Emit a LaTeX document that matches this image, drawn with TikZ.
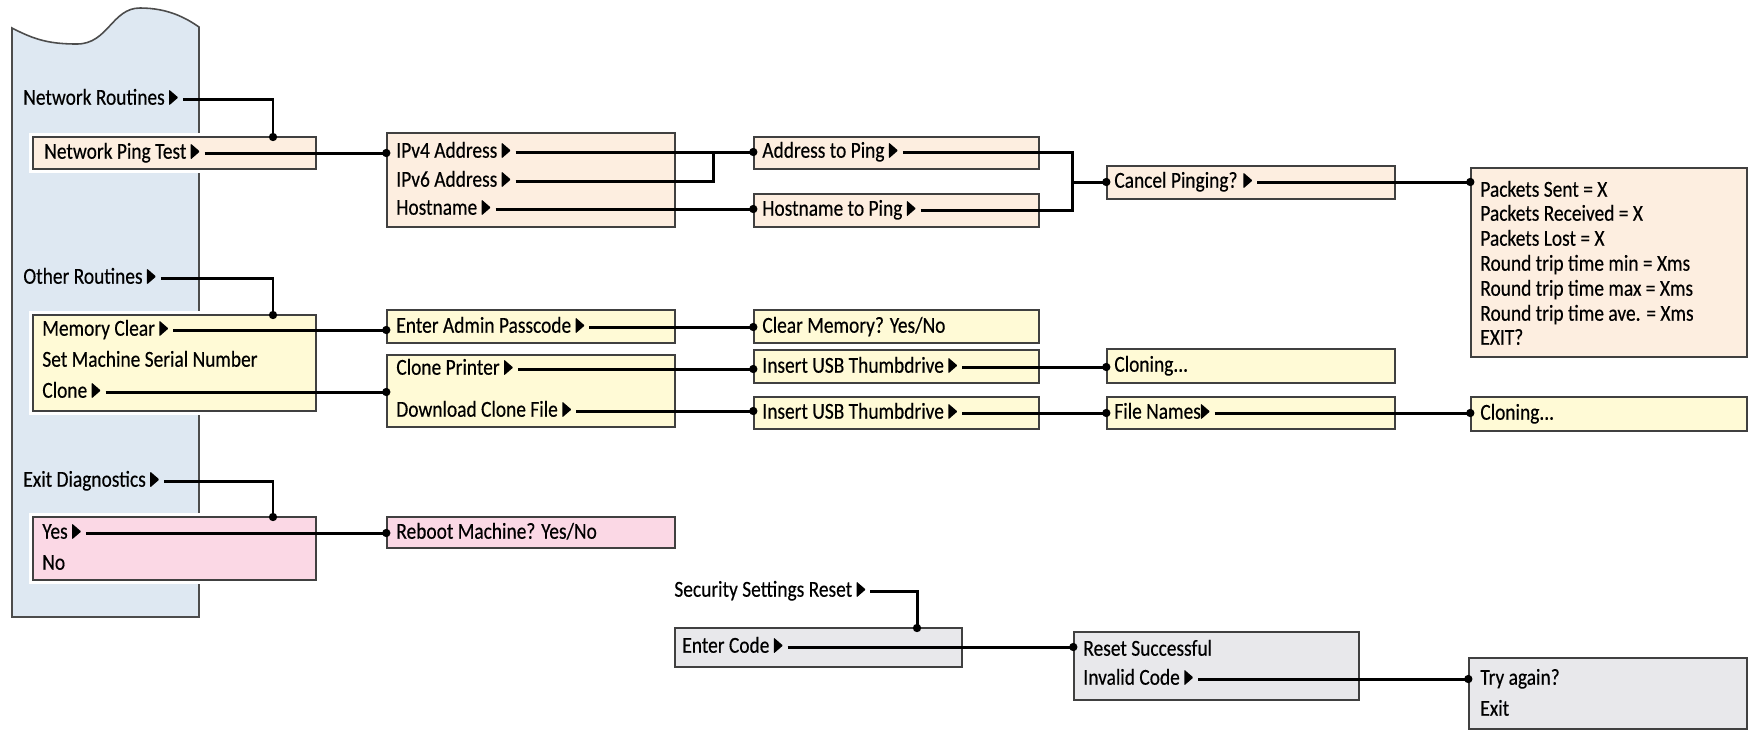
\documentclass[tikz,border=0pt]{standalone}
\usepackage{fontspec}
\setmainfont{Carlito}[FakeStretch=0.85,FakeBold=0.35]
\usepackage{tikz}
\usetikzlibrary{arrows.meta,positioning,calc,fit}
\definecolor{panelblue}{RGB}{222,232,242}
\definecolor{peach}{RGB}{253,238,224}
\definecolor{cream}{RGB}{255,250,214}
\definecolor{pinkish}{RGB}{251,216,229}
\definecolor{greybox}{RGB}{232,232,235}
\newcommand\tri{\tikz[baseline=0pt]\fill[rounded corners=0.5pt] (0,-0.4pt)--(0,8.6pt)--(5.2pt,4.1pt)--cycle;\kern2.5pt}

\begin{document}
\begin{tikzpicture}[x=0.02cm,y=-0.02cm,
  every node/.style={font=\fontsize{13}{15}\selectfont},
  menu/.style={draw=black!75,line width=0.8pt,inner sep=0pt,preaction={draw=white,line width=5pt}},
  txt/.style={anchor=west,inner sep=0pt,text height=8.5pt,text depth=2pt},
  wire/.style={line width=1.7pt,-{Circle[length=4.6pt]},shorten >=-2.3pt},
  link/.style={line width=1.7pt}]
\useasboundingbox (0,0) rectangle (1750,731);
% side panel
\draw[fill=panelblue,draw=black!70,line width=0.9pt] (12,617) -- (12,28)
  .. controls (35,40) and (50,44) .. (77,44)
  .. controls (108,44) and (112,8) .. (140,8)
  .. controls (168,8) and (186,18) .. (199,27) -- (199,617) -- cycle;
% boxes
\node[menu,fill=peach,fit={(33,137)(316,169)}] (ping) {};
\node[menu,fill=peach,fit={(387,133)(675,227)}] (ipbox) {};
\node[menu,fill=peach,fit={(754,137)(1039,169)}] (aping) {};
\node[menu,fill=peach,fit={(754,194)(1039,227)}] (hping) {};
\node[menu,fill=peach,fit={(1107,166)(1395,199)}] (cancel) {};
\node[menu,fill=peach,fit={(1471,168)(1747,357)}] (stats) {};
\node[menu,fill=cream,fit={(33,315)(316,411)}] (membox) {};
\node[menu,fill=cream,fit={(387,310)(675,343)}] (admin) {};
\node[menu,fill=cream,fit={(754,310)(1039,343)}] (clear) {};
\node[menu,fill=cream,fit={(387,355)(675,427)}] (clonebox) {};
\node[menu,fill=cream,fit={(754,350)(1039,383)}] (usbA) {};
\node[menu,fill=cream,fit={(754,397)(1039,429)}] (usbB) {};
\node[menu,fill=cream,fit={(1107,349)(1395,383)}] (cloneA) {};
\node[menu,fill=cream,fit={(1107,397)(1395,429)}] (fnames) {};
\node[menu,fill=cream,fit={(1471,397)(1747,431)}] (cloneB) {};
\node[menu,fill=pinkish,fit={(33,517)(316,580)}] (yesno) {};
\node[menu,fill=pinkish,fit={(387,517)(675,548)}] (reboot) {};
\node[menu,fill=greybox,fit={(675,628)(962,667)}] (code) {};
\node[menu,fill=greybox,fit={(1074,632)(1359,700)}] (reset) {};
\node[menu,fill=greybox,fit={(1469,658)(1747,729)}] (retry) {};
% texts
\node[txt] (nr) at (23,99) {Network Routines \tri};
\node[txt] (pingrow) at (44,153) {Network Ping Test \tri};
\node[txt] (ipv4) at (396,152) {IPv4 Address \tri};
\node[txt] (ipv6) at (396,181) {IPv6 Address \tri};
\node[txt] (host) at (396,209) {Hostname \tri};
\node[txt] (aprow) at (762,152) {Address to Ping \tri};
\node[txt] (hprow) at (762,210) {Hostname to Ping \tri};
\node[txt] (cancelrow) at (1114,182) {Cancel Pinging? \tri};
\node[txt] (st1) at (1480,191) {Packets Sent = X};
\node[txt] (st2) at (1480,215) {Packets Received = X};
\node[txt] (st3) at (1480,240) {Packets Lost = X};
\node[txt] (st4) at (1480,265) {Round trip time min = Xms};
\node[txt] (st5) at (1480,290) {Round trip time max = Xms};
\node[txt] (st6) at (1480,315) {Round trip time ave. = Xms};
\node[txt] (st7) at (1480,339) {EXIT?};
\node[txt] (orow) at (23,278) {Other Routines \tri};
\node[txt] (memclr) at (42,330) {Memory Clear \tri};
\node[txt] (serial) at (42,361) {Set Machine Serial Number};
\node[txt] (clonerow) at (42,392) {Clone \tri};
\node[txt] (adminrow) at (396,327) {Enter Admin Passcode \tri};
\node[txt] (clearrow) at (762,327) {Clear Memory? Yes/No};
\node[txt] (cprow) at (396,369) {Clone Printer \tri};
\node[txt] (dlrow) at (396,411) {Download Clone File \tri};
\node[txt] (usbArow) at (762,367) {Insert USB Thumbdrive \tri};
\node[txt] (usbBrow) at (762,413) {Insert USB Thumbdrive \tri};
\node[txt] (cloneArow) at (1114,366) {Cloning...};
\node[txt] (fnrow) at (1114,413) {File Names\tri};
\node[txt] (cloneBrow) at (1480,414) {Cloning...};
\node[txt] (exrow) at (23,481) {Exit Diagnostics \tri};
\node[txt] (yesrow) at (42,533) {Yes \tri};
\node[txt] (norow) at (42,564) {No};
\node[txt] (rebootrow) at (396,533) {Reboot Machine? Yes/No};
\node[txt] (secrow) at (674,591) {Security Settings Reset \tri};
\node[txt] (coderow) at (682,647) {Enter Code \tri};
\node[txt] (okrow) at (1083,650) {Reset Successful};
\node[txt] (invrow) at (1083,679) {Invalid Code \tri};
\node[txt] (againrow) at (1480,679) {Try again?};
\node[txt] (exitrow) at (1480,710) {Exit};
% joints
\coordinate (nrdrop) at (273,137);
\coordinate (ordrop) at (273,315);
\coordinate (exdrop) at (273,517);
\coordinate (secdrop) at (917,628);
\coordinate (ipjoin) at (713,152);
\coordinate (pingjoin) at (1072,182);
% connectors
\draw[wire] (nr.east) -| (nrdrop);
\draw[wire] (pingrow.east) -- (pingrow.east -| ipbox.west);
\draw[wire] (ipv4.east) -- (ipv4.east -| aping.west);
\draw[link] (ipv6.east) -| (ipjoin);
\draw[wire] (host.east) -- (host.east -| hping.west);
\draw[link] (aprow.east) -| (pingjoin);
\draw[link] (hprow.east) -| (pingjoin);
\draw[wire] (pingjoin) -- (pingjoin -| cancel.west);
\draw[wire] (cancelrow.east) -- (cancelrow.east -| stats.west);
\draw[wire] (orow.east) -| (ordrop);
\draw[wire] (memclr.east) -- (memclr.east -| admin.west);
\draw[wire] (adminrow.east) -- (adminrow.east -| clear.west);
\draw[wire] (clonerow.east) -- (clonerow.east -| clonebox.west);
\draw[wire] (cprow.east) -- (cprow.east -| usbA.west);
\draw[wire] (dlrow.east) -- (dlrow.east -| usbB.west);
\draw[wire] (usbArow.east) -- (usbArow.east -| cloneA.west);
\draw[wire] (usbBrow.east) -- (usbBrow.east -| fnames.west);
\draw[wire] (fnrow.east) -- (fnrow.east -| cloneB.west);
\draw[wire] (exrow.east) -| (exdrop);
\draw[wire] (yesrow.east) -- (yesrow.east -| reboot.west);
\draw[wire] (secrow.east) -| (secdrop);
\draw[wire] (coderow.east) -- (coderow.east -| reset.west);
\draw[wire] (invrow.east) -- (invrow.east -| retry.west);
\end{tikzpicture}
\end{document}
